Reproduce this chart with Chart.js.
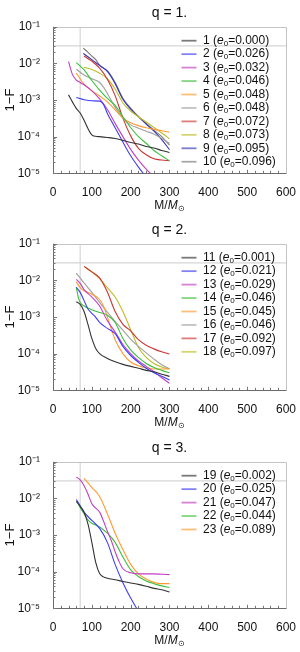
<!DOCTYPE html>
<html>
<head>
<meta charset="utf-8">
<script src="https://cdn.jsdelivr.net/npm/chart.js@4.4.1/dist/chart.umd.min.js"></script>
<style>
  html, body { margin: 0; padding: 0; background: #fff; }
  canvas { display: block; }
</style>
</head>
<body>
<canvas id="panel-q1" width="300" height="217"></canvas>
<canvas id="panel-q2" width="300" height="218"></canvas>
<canvas id="panel-q3" width="300" height="217"></canvas>
<script>
// reference lines (grid lines in the original)
const refM = [70];
const refF = [0.03];

// q = 1.
const e0Q1 = [0.000, 0.026, 0.032, 0.046, 0.048, 0.048, 0.072, 0.073, 0.095, 0.096];
const m1 = [40, 50, 60, 70, 80, 90, 100, 110, 120, 140, 160, 180, 200, 220, 240, 260, 280, 300];
const f1 = [1.38e-3, 8.9e-4, 5.9e-4, 4.4e-4, 2.8e-4, 1.66e-4, 1.12e-4, 1.02e-4, 1.0e-4, 9.5e-5, 8.9e-5, 7.9e-5, 6.9e-5, 6.3e-5, 5.4e-5, 4.9e-5, 4.2e-5, 3.7e-5];
const m2 = [60, 80, 100, 120, 130, 140, 160, 180, 200, 220, 240];
const f2 = [1.17e-3, 1.02e-3, 9.5e-4, 9.3e-4, 7.6e-4, 4.3e-4, 1.74e-4, 7.1e-5, 3.0e-5, 1.48e-5, 7.9e-6];
const m3 = [40, 50, 60, 70, 80, 100, 120, 140, 160, 180, 200, 220, 240, 260];
const f3 = [1.12e-2, 5.0e-3, 3.5e-3, 3.0e-3, 2.6e-3, 1.78e-3, 1.07e-3, 5.5e-4, 2.3e-4, 1.0e-4, 4.5e-5, 2.3e-5, 1.3e-5, 7.9e-6];
const m4 = [60, 80, 100, 120, 140, 160, 180, 200, 220, 240, 260, 280, 300];
const f4 = [1.05e-2, 6.6e-3, 3.4e-3, 1.86e-3, 1.1e-3, 7.1e-4, 3.5e-4, 1.78e-4, 1.0e-4, 6.6e-5, 4.2e-5, 3.0e-5, 2.2e-5];
const m5 = [60, 80, 100, 120, 140, 160, 180, 200, 220, 240, 260, 280, 300];
const f5 = [5.4e-3, 2.7e-3, 1.78e-3, 1.29e-3, 8.9e-4, 5.4e-4, 3.2e-4, 2.4e-4, 2.0e-4, 1.74e-4, 1.58e-4, 1.45e-4, 1.32e-4];
const m6 = [60, 80, 100, 120, 130, 140, 160, 180, 200, 220, 240, 260, 280, 300];
const f6 = [6.9e-3, 4.8e-3, 3.8e-3, 3.0e-3, 2.24e-3, 1.51e-3, 6.3e-4, 3.2e-4, 2.1e-4, 1.7e-4, 1.41e-4, 1.17e-4, 8.9e-5, 6.6e-5];
const m7 = [80, 100, 120, 140, 160, 180, 200, 220, 240, 260, 280, 300];
const f7 = [1.58e-2, 1.15e-2, 7.4e-3, 3.7e-3, 1.32e-3, 3.2e-4, 1.05e-4, 4.8e-5, 3.2e-5, 2.5e-5, 2.3e-5, 2.2e-5];
const m8 = [80, 100, 120, 140, 160, 180, 200, 220, 240, 260, 280, 300];
const f8 = [7.8e-3, 6.8e-3, 5.4e-3, 3.8e-3, 2.0e-3, 8.3e-4, 5.0e-4, 3.5e-4, 2.5e-4, 1.78e-4, 1.26e-4, 8.7e-5];
const m9 = [78, 100, 120, 140, 160, 180, 200, 220, 240, 260, 280, 300];
const f9 = [1.86e-2, 1.26e-2, 8.7e-3, 6.0e-3, 2.8e-3, 1.05e-3, 5.6e-4, 3.5e-4, 2.2e-4, 1.41e-4, 8.3e-5, 4.4e-5];
const m10 = [78, 90, 100, 110, 120, 140, 160, 180, 200, 220, 240, 260, 280, 300];
const f10 = [2.6e-2, 2.0e-2, 1.58e-2, 1.26e-2, 8.9e-3, 6.3e-3, 3.0e-3, 1.12e-3, 6.0e-4, 3.5e-4, 2.3e-4, 1.51e-4, 1.0e-4, 5.9e-5];

// q = 2.
const e0Q2 = [0.001, 0.021, 0.029, 0.046, 0.045, 0.046, 0.092, 0.097];
const m11 = [60, 70, 80, 90, 100, 110, 120, 140, 160, 180, 200, 220, 240, 260, 280, 300];
const f11 = [2.6e-3, 2.2e-3, 1.41e-3, 6.3e-4, 2.6e-4, 1.38e-4, 1.0e-4, 7.4e-5, 6.0e-5, 5.1e-5, 4.5e-5, 4.0e-5, 3.5e-5, 3.2e-5, 2.75e-5, 2.4e-5];
const m12 = [60, 70, 80, 90, 100, 110, 120, 140, 160, 180, 200, 220, 240, 260, 280, 300];
const f12 = [6.5e-3, 4.7e-3, 2.8e-3, 1.66e-3, 1.26e-3, 9.8e-4, 7.1e-4, 4.9e-4, 3.5e-4, 1.58e-4, 8.9e-5, 5.8e-5, 4.0e-5, 3.0e-5, 2.4e-5, 1.9e-5];
const m13 = [60, 70, 80, 100, 120, 140, 160, 180, 200, 220, 240, 260, 280, 300];
const f13 = [1.07e-2, 8.3e-3, 5.6e-3, 3.5e-3, 2.0e-3, 7.9e-4, 3.9e-4, 1.78e-4, 1.0e-4, 6.3e-5, 4.5e-5, 3.2e-5, 2.2e-5, 1.55e-5];
const m14 = [60, 65, 70, 80, 100, 120, 140, 160, 180, 200, 220, 240, 260, 280, 300];
const f14 = [6.5e-3, 3.5e-3, 2.5e-3, 2.0e-3, 1.58e-3, 1.32e-3, 1.12e-3, 7.1e-4, 2.6e-4, 1.26e-4, 7.9e-5, 5.4e-5, 4.2e-5, 3.5e-5, 3.0e-5];
const m15 = [60, 70, 80, 100, 120, 130, 140, 160, 180, 200, 220, 240, 260, 280, 300];
const f15 = [9.1e-3, 6.3e-3, 5.2e-3, 4.2e-3, 3.0e-3, 2.0e-3, 1.0e-3, 2.4e-4, 1.0e-4, 5.9e-5, 4.7e-5, 4.1e-5, 3.8e-5, 3.8e-5, 3.8e-5];
const m16 = [60, 80, 100, 120, 140, 160, 180, 200, 220, 240, 260, 280, 300];
const f16 = [1.58e-2, 8.5e-3, 4.7e-3, 2.5e-3, 1.35e-3, 7.6e-4, 4.4e-4, 2.5e-4, 1.58e-4, 1.05e-4, 7.1e-5, 5.0e-5, 3.9e-5];
const m17 = [80, 100, 120, 140, 160, 180, 200, 220, 240, 260, 280, 300];
const f17 = [2.4e-2, 1.7e-2, 1.17e-2, 4.8e-3, 1.41e-3, 6.3e-4, 4.2e-4, 2.4e-4, 1.7e-4, 1.35e-4, 1.12e-4, 9.8e-5];
const m18 = [80, 100, 120, 140, 160, 180, 200, 220, 240, 260, 280, 300];
const f18 = [2.4e-2, 1.7e-2, 1.12e-2, 6.3e-3, 3.5e-3, 1.41e-3, 4.5e-4, 1.48e-4, 7.9e-5, 5.4e-5, 4.3e-5, 3.8e-5];

// q = 3.
const e0Q3 = [0.002, 0.025, 0.047, 0.044, 0.089];
const m19 = [60, 70, 80, 90, 100, 110, 120, 130, 140, 160, 180, 200, 220, 240, 260, 280, 300];
const f19 = [8.3e-3, 6.0e-3, 4.2e-3, 2.0e-3, 6.3e-4, 1.78e-4, 8.9e-5, 7.2e-5, 6.6e-5, 6.0e-5, 5.4e-5, 4.9e-5, 4.5e-5, 4.0e-5, 3.5e-5, 3.2e-5, 2.8e-5];
const m20 = [60, 70, 80, 100, 120, 140, 160, 180, 200, 220];
const f20 = [9.3e-3, 6.3e-3, 4.2e-3, 2.5e-3, 1.51e-3, 6.3e-4, 1.58e-4, 5.0e-5, 1.9e-5, 8.3e-6];
const m21 = [60, 70, 80, 90, 100, 110, 120, 130, 140, 150, 160, 170, 180, 200, 220, 240, 260, 280, 300];
const f21 = [3.8e-2, 3.2e-2, 2.2e-2, 1.32e-2, 7.1e-3, 5.4e-3, 4.2e-3, 2.4e-3, 1.26e-3, 7.1e-4, 3.5e-4, 1.9e-4, 1.2e-4, 9.3e-5, 8.7e-5, 8.7e-5, 8.7e-5, 8.5e-5, 8.3e-5];
const m22 = [62, 70, 80, 90, 100, 110, 120, 140, 160, 180, 200, 220, 240, 260, 280, 300];
const f22 = [8.3e-3, 5.6e-3, 3.8e-3, 2.6e-3, 2.1e-3, 1.86e-3, 1.66e-3, 1.12e-3, 6.3e-4, 2.5e-4, 1.12e-4, 7.4e-5, 5.6e-5, 4.7e-5, 4.1e-5, 3.7e-5];
const m23 = [80, 100, 120, 140, 160, 180, 200, 220, 240, 260, 280, 300];
const f23 = [3.5e-2, 2.0e-2, 1.12e-2, 3.8e-3, 1.12e-3, 4.0e-4, 1.58e-4, 8.7e-5, 6.3e-5, 5.1e-5, 4.7e-5, 4.7e-5];

const xTicks = [0, 100, 200, 300, 400, 500, 600];
const yTicks = [1e-5, 1e-4, 1e-3, 1e-2, 1e-1];

// line colours, in legend order
const colorsQ1 = ["#333333", "#3f3ff5", "#c23fc2", "#3cbf3c", "#ff9a33", "#a0a0a0", "#cc3535", "#bdbd25", "#3434b8", "#7a7a7a"];
const colorsQ2 = ["#333333", "#3f3ff5", "#c23fc2", "#3cbf3c", "#ff9a33", "#a0a0a0", "#cc3535", "#bdbd25"];
const colorsQ3 = ["#333333", "#3f3ff5", "#c23fc2", "#3cbf3c", "#ff9a33"];

const FONT = "'Liberation Sans', Arial, Helvetica, sans-serif";
const SUP = {"-": "\u207b", "0": "\u2070", "1": "\u00b9", "2": "\u00b2", "3": "\u00b3", "4": "\u2074", "5": "\u2075"};

function supLabel(value) {
    const exp = String(Math.round(Math.log10(value)));
    return "10" + exp.split("").map((c) => SUP[c]).join("");
}

const panelDecor = {
    id: "panelDecor",
    afterDraw(chart, args, opts) {
        const {ctx, chartArea: a, scales} = chart;
        const x = scales.x;
        const y = scales.y;
        ctx.save();

        // frame
        ctx.lineWidth = 1;
        ctx.strokeStyle = "#c4c4c4";
        ctx.beginPath();
        ctx.moveTo(a.left, Math.round(a.top) + 0.5);
        ctx.lineTo(Math.round(a.right) + 0.5, Math.round(a.top) + 0.5);
        ctx.lineTo(Math.round(a.right) + 0.5, a.bottom);
        ctx.stroke();
        ctx.strokeStyle = "#6a6a6a";
        ctx.beginPath();
        ctx.moveTo(Math.round(a.left) + 0.5, a.top);
        ctx.lineTo(Math.round(a.left) + 0.5, Math.round(a.bottom) + 0.5);
        ctx.lineTo(a.right + 0.5, Math.round(a.bottom) + 0.5);
        ctx.stroke();

        // inward ticks
        ctx.strokeStyle = "#777";
        ctx.beginPath();
        for (let v = 20; v < 600; v += 20) {
            const px = Math.round(x.getPixelForValue(v)) + 0.5;
            const len = v % 100 === 0 ? 3.5 : 2.5;
            ctx.moveTo(px, a.bottom);
            ctx.lineTo(px, a.bottom - len);
        }
        for (let d = -5; d < -1 + 0.5; d++) {
            for (let k = 1; k <= 9; k++) {
                const v = k * Math.pow(10, d);
                if (v > 0.1000001) break;
                const py = Math.round(y.getPixelForValue(v)) + 0.5;
                ctx.moveTo(a.left, py);
                ctx.lineTo(a.left + (k === 1 ? 4 : 2.5), py);
            }
        }
        ctx.stroke();

        // title
        ctx.fillStyle = "#111";
        ctx.textAlign = "center";
        ctx.textBaseline = "middle";
        ctx.font = "14px " + FONT;
        ctx.fillText(opts.title, (a.left + a.right) / 2, 13);

        // x axis title  M/M_sun
        const tx = (a.left + a.right) / 2;
        const ty = 206;
        ctx.font = "12px " + FONT;
        const w1 = ctx.measureText("M/").width;
        ctx.font = "italic 12px " + FONT;
        const w2 = ctx.measureText("M").width;
        ctx.font = "8px " + FONT;
        const w3 = ctx.measureText("\u2299").width;
        let sx = tx - (w1 + w2 + w3) / 2;
        ctx.textAlign = "left";
        ctx.font = "12px " + FONT;
        ctx.fillText("M/", sx, ty);
        ctx.font = "italic 12px " + FONT;
        ctx.fillText("M", sx + w1, ty);
        ctx.font = "8px " + FONT;
        ctx.fillText("\u2299", sx + w1 + w2, ty + 3);

        // y axis title
        ctx.save();
        ctx.translate(10, (a.top + a.bottom) / 2);
        ctx.rotate(-Math.PI / 2);
        ctx.textAlign = "center";
        ctx.font = "13px " + FONT;
        ctx.fillText("1\u2212F", 0, 0);
        ctx.restore();

        // legend
        let row = 0;
        chart.data.datasets.forEach((ds) => {
            if (ds.legendNo === undefined) return;
            const ly = a.top + 14 + row * 13.45;
            ctx.globalAlpha = 0.65;
            ctx.strokeStyle = ds.borderColor;
            ctx.lineWidth = 1.8;
            ctx.beginPath();
            ctx.moveTo(181.5, ly);
            ctx.lineTo(196.5, ly);
            ctx.stroke();
            ctx.globalAlpha = 1;
            ctx.fillStyle = "#111";
            ctx.textAlign = "left";
            let lx = 203;
            const parts = [
                ["12px " + FONT, ds.legendNo + " (", 0],
                ["italic 12px " + FONT, "e", 0],
                ["8px " + FONT, "0", 3],
                ["12px " + FONT, "=" + ds.e0.toFixed(3) + ")", 0]
            ];
            parts.forEach(([font, text, dy]) => {
                ctx.font = font;
                ctx.fillText(text, lx, ly + dy);
                lx += ctx.measureText(text).width;
            });
            row++;
        });
        ctx.restore();
    }
};

function makePanel(canvasId, title, firstNo, e0List, colors, mLists, fLists) {
    const canvas = document.getElementById(canvasId);
    const H = canvas.height;
    const datasets = mLists.map((mList, i) => ({
        label: String(firstNo + i),
        legendNo: firstNo + i,
        e0: e0List[i],
        data: mList.map((m, j) => ({x: m, y: fLists[i][j]})),
        borderColor: colors[i],
        borderWidth: 1.1,
        pointRadius: 0,
        fill: false,
        cubicInterpolationMode: "monotone",
        order: 1
    }));
    datasets.push({
        data: [{x: refM[0], y: 1e-5}, {x: refM[0], y: 1e-1}],
        borderColor: "#d6d6d6", borderWidth: 1.2, pointRadius: 0, order: 5
    });
    datasets.push({
        data: [{x: 0, y: refF[0]}, {x: 600, y: refF[0]}],
        borderColor: "#d6d6d6", borderWidth: 1.2, pointRadius: 0, order: 5
    });

    return new Chart(canvas, {
        type: "line",
        data: {datasets},
        options: {
            responsive: false,
            animation: false,
            events: [],
            layout: {padding: {top: 26.7, right: 10, left: 0, bottom: 0}},
            plugins: {
                legend: {display: false},
                tooltip: {enabled: false},
                panelDecor: {title}
            },
            scales: {
                x: {
                    type: "linear",
                    min: 0,
                    max: 600,
                    grid: {display: false},
                    border: {display: false},
                    afterBuildTicks: (s) => { s.ticks = xTicks.map((v) => ({value: v})); },
                    ticks: {padding: 4, maxRotation: 0, color: "#111", font: {family: FONT, size: 12}},
                    afterFit: (s) => { s.height = H - 173.3; }
                },
                y: {
                    type: "logarithmic",
                    min: 1e-5,
                    max: 1e-1,
                    grid: {display: false},
                    border: {display: false},
                    afterBuildTicks: (s) => { s.ticks = yTicks.map((v) => ({value: v})); },
                    ticks: {padding: 5, color: "#111", font: {family: FONT, size: 12}, callback: (v) => supLabel(v)},
                    afterFit: (s) => { s.width = 53; }
                }
            }
        },
        plugins: [panelDecor]
    });
}

makePanel("panel-q1", "q = 1.", 1, e0Q1, colorsQ1,
    [m1, m2, m3, m4, m5, m6, m7, m8, m9, m10],
    [f1, f2, f3, f4, f5, f6, f7, f8, f9, f10]);
makePanel("panel-q2", "q = 2.", 11, e0Q2, colorsQ2,
    [m11, m12, m13, m14, m15, m16, m17, m18],
    [f11, f12, f13, f14, f15, f16, f17, f18]);
makePanel("panel-q3", "q = 3.", 19, e0Q3, colorsQ3,
    [m19, m20, m21, m22, m23],
    [f19, f20, f21, f22, f23]);
</script>
</body>
</html>
